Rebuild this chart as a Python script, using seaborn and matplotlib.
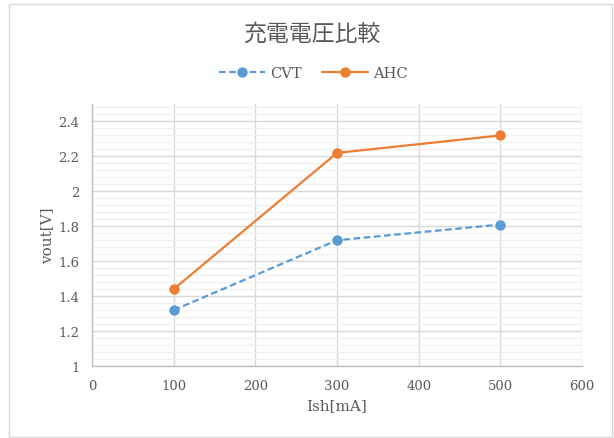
import matplotlib
matplotlib.use("Agg")
import matplotlib.pyplot as plt
from matplotlib.patches import Rectangle
from matplotlib.ticker import MultipleLocator
import pandas as pd
import seaborn as sns

# Measured output voltage vs shunt current
ish_ma = [100, 300, 500]
cvt_v = [1.32, 1.72, 1.81]
ahc_v = [1.44, 2.22, 2.32]
series_names = ["CVT", "AHC"]
title_text = "充電電圧比較"
x_label = "Ish[mA]"
y_label = "vout[V]"

df = pd.DataFrame({
    "Ish": ish_ma * 2,
    "vout": cvt_v + ahc_v,
    "series": [series_names[0]] * len(ish_ma) + [series_names[1]] * len(ish_ma),
})

sns.set_theme(style="white")
plt.rcParams["font.family"] = ["DejaVu Serif", "Liberation Serif"]

fig = plt.figure(figsize=(6.14, 4.39), dpi=100)
ax = fig.add_axes([92 / 614, 1 - 367 / 439, 490 / 614, 262 / 439])

colors = {"CVT": "#5b9bd5", "AHC": "#ed7d31"}
sns.lineplot(
    data=df, x="Ish", y="vout", hue="series", style="series",
    palette=colors, dashes={"CVT": (3, 1.6), "AHC": ""},
    markers={"CVT": "o", "AHC": "o"}, markersize=7.5, markeredgewidth=0,
    linewidth=1.6, ax=ax, legend=False, zorder=3,
)

ax.set_xlim(0, 600)
ax.set_ylim(1, 2.5)
ax.xaxis.set_major_locator(MultipleLocator(100))
ax.yaxis.set_minor_locator(MultipleLocator(0.04))
ax.set_yticks([1, 1.2, 1.4, 1.6, 1.8, 2, 2.2, 2.4])
ax.set_yticklabels(["1", "1.2", "1.4", "1.6", "1.8", "2", "2.2", "2.4"])
ax.grid(which="major", color="#d9d9d9", linewidth=1.0, zorder=0)
ax.grid(which="minor", axis="y", color="#f0f0f0", linewidth=0.9, zorder=0)
ax.set_axisbelow(True)

for side in ["top", "right"]:
    ax.spines[side].set_visible(False)
for side in ["left", "bottom"]:
    ax.spines[side].set_color("#bfbfbf")
    ax.spines[side].set_linewidth(1.0)

ax.tick_params(axis="both", which="both", length=0, labelsize=9.5,
               labelcolor="#595959", pad=9)
ax.set_xlabel(x_label, fontsize=11, color="#595959", labelpad=5)
ax.set_ylabel(y_label, fontsize=11, color="#595959", labelpad=3)

fig.text(312 / 614, 1 - 34 / 439, title_text, ha="center", va="center",
         fontsize=16.5, color="#595959",
         family=["Noto Sans CJK JP", "DejaVu Sans"])

handles = [
    plt.Line2D([], [], color=colors["CVT"], linestyle=(0, (3, 1.6)),
               marker="o", markersize=7.5, markeredgewidth=0, linewidth=1.6),
    plt.Line2D([], [], color=colors["AHC"], linestyle="-",
               marker="o", markersize=7.5, markeredgewidth=0, linewidth=1.6),
]
leg = fig.legend(handles, series_names, loc="center",
                 bbox_to_anchor=(313 / 614, 1 - 74 / 439), ncol=2, frameon=False,
                 fontsize=10.5, handlelength=3.2, columnspacing=1.4,
                 handletextpad=0.3)
for t in leg.get_texts():
    t.set_color("#595959")

fig.patches.append(Rectangle((9 / 614, 1 / 439), 603 / 614, 433 / 439,
                             transform=fig.transFigure, fill=False,
                             edgecolor="#d9d9d9", linewidth=1.0))

fig.savefig("out.png", dpi=100)
